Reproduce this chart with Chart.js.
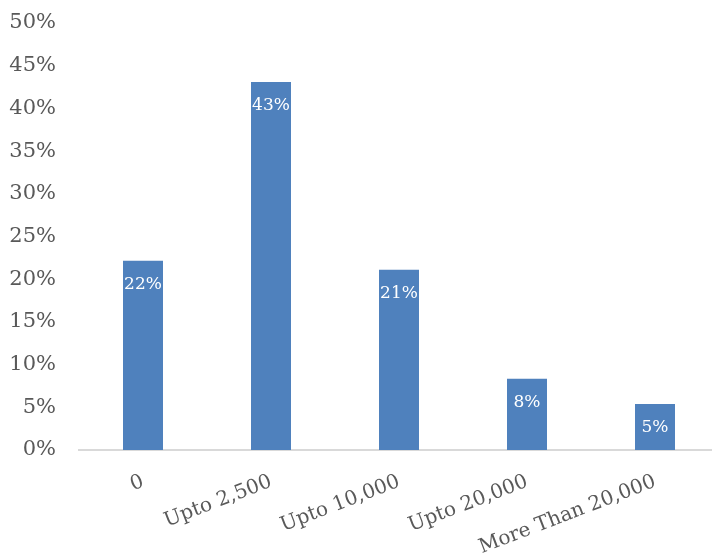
<!DOCTYPE html>
<html>
<head>
<meta charset="utf-8">
<script src="https://cdn.jsdelivr.net/npm/chart.js@4/dist/chart.umd.min.js"></script>
<style>
  html, body { margin: 0; padding: 0; background: #fff; overflow: hidden; }
  #wrap { width: 712px; height: 554px; overflow: hidden; }
</style>
</head>
<body>
<div id="wrap"><canvas id="chart" width="719" height="554"></canvas></div>
<script>
// categories and shares (percent)
const categories = ['0', 'Upto 2,500', 'Upto 10,000', 'Upto 20,000', 'More Than 20,000'];
const shares = [22.15, 43.1, 21.1, 8.33, 5.4];
const yTicks = [0, 5, 10, 15, 20, 25, 30, 35, 40, 45, 50];

const barBlue = '#4F81BD';
const textGray = '#595959';
const serif = 'DejaVu Serif';

// white value labels just inside the top of each bar
const valueLabels = {
  id: 'valueLabels',
  afterDatasetsDraw(chart) {
    const ctx = chart.ctx;
    const meta = chart.getDatasetMeta(0);
    ctx.save();
    ctx.fillStyle = '#ffffff';
    ctx.font = '17px "' + serif + '"';
    ctx.textAlign = 'center';
    ctx.textBaseline = 'middle';
    meta.data.forEach((bar, i) => {
      ctx.fillText(Math.round(shares[i]) + '%', bar.x, bar.y + 24);
    });
    ctx.restore();
  }
};

new Chart(document.getElementById('chart'), {
  type: 'bar',
  data: {
    labels: categories,
    datasets: [{
      data: shares,
      backgroundColor: barBlue,
      borderWidth: 0,
      categoryPercentage: 1,
      barPercentage: 0.3125
    }]
  },
  options: {
    responsive: false,
    animation: false,
    layout: { padding: { left: 0, top: 23, right: 0, bottom: 0 } },
    plugins: {
      legend: { display: false },
      tooltip: { enabled: false }
    },
    scales: {
      x: {
        grid: { display: false },
        border: { display: true, color: '#d9d9d9', width: 2 },
        // fixed axis band; no extra side padding from the rotated labels
        afterFit(scale) {
          scale.height = 104;
          scale.paddingLeft = 0;
          scale.paddingRight = 0;
        },
        ticks: {
          color: textGray,
          font: { family: serif, size: 20 },
          minRotation: 21,
          maxRotation: 21,
          padding: 12
        }
      },
      y: {
        min: 0,
        max: 50,
        afterBuildTicks(scale) {
          scale.ticks = yTicks.map(v => ({ value: v }));
        },
        afterFit(scale) {
          scale.width = 79;
          scale.paddingTop = 0;
          scale.paddingBottom = 0;
        },
        grid: { display: false },
        border: { display: false },
        ticks: {
          color: textGray,
          font: { family: serif, size: 21 },
          padding: 15,
          callback: v => v + '%'
        }
      }
    }
  },
  plugins: [valueLabels]
});
</script>
</body>
</html>
